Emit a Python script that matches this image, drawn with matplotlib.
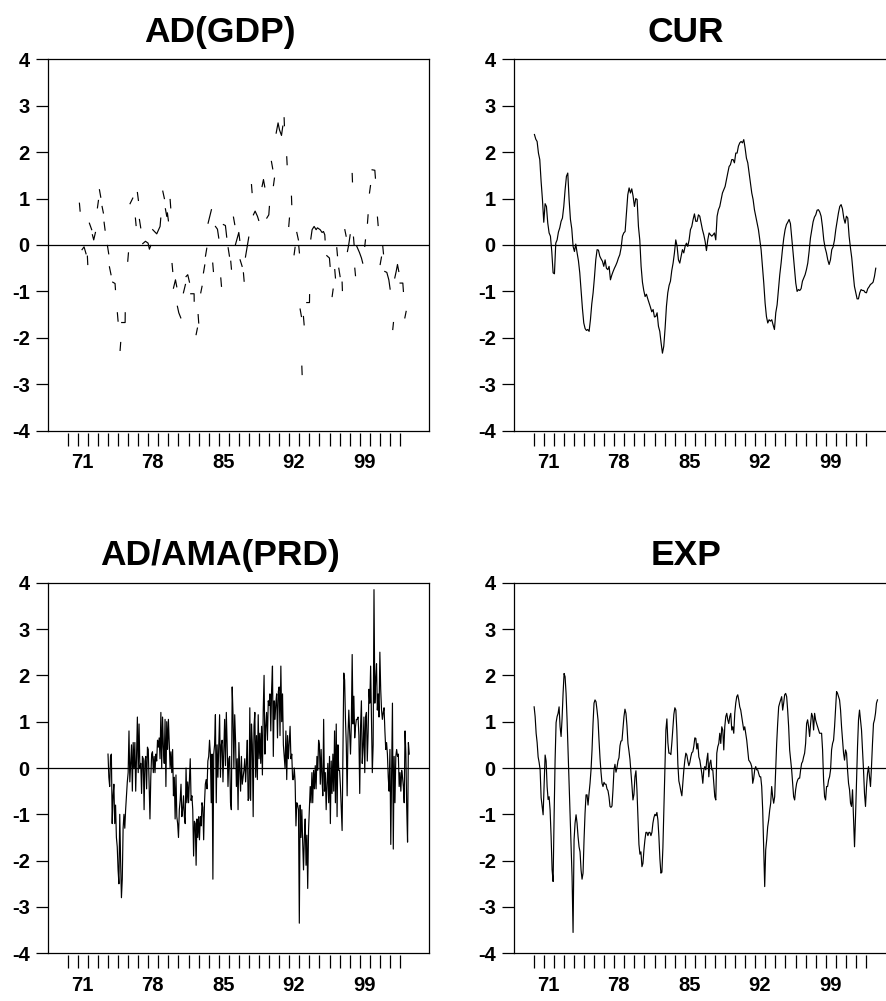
import numpy as np
import matplotlib
matplotlib.use("Agg")
import matplotlib.pyplot as plt

plt.rcParams['font.family'] = ['Liberation Sans', 'DejaVu Sans']
plt.rcParams['font.weight'] = 'bold'
plt.rcParams['axes.unicode_minus'] = False

# ---- data ----
# AD(GDP): only short fragments of the line are visible, one list per fragment
gdp_years = [
    [1971.16, 1971.23], [1971.42, 1971.62, 1971.82], [1971.95, 1971.99],
    [1972.15, 1972.38], [1972.45, 1972.58, 1972.75], [1972.95, 1973.05],
    [1973.15, 1973.28], [1973.41, 1973.54], [1973.61, 1973.71],
    [1973.94, 1974.07], [1974.14, 1974.30], [1974.47, 1974.70, 1974.74],
    [1974.93, 1975.00], [1975.20, 1975.26], [1975.36, 1975.70, 1975.71],
    [1975.96, 1976.03], [1976.19, 1976.46], [1976.72, 1976.79],
    [1976.92, 1977.02], [1977.12, 1977.25],
    [1977.45, 1977.72, 1977.98, 1978.11, 1978.25],
    [1978.44, 1978.84, 1979.17, 1979.24], [1979.44, 1979.60],
    [1979.70, 1979.83], [1979.90, 1980.00], [1980.17, 1980.23],
    [1980.36, 1980.43], [1980.50, 1980.70, 1980.83],
    [1980.89, 1981.03, 1981.23], [1981.49, 1981.69],
    [1981.75, 1981.92, 1982.09], [1982.22, 1982.55, 1982.56],
    [1982.75, 1982.88], [1982.95, 1983.01], [1983.21, 1983.34],
    [1983.48, 1983.61], [1983.68, 1983.81], [1983.94, 1984.14, 1984.27],
    [1984.40, 1984.47], [1984.67, 1984.87, 1985.00], [1985.20, 1985.27],
    [1985.46, 1985.66, 1985.79], [1985.93, 1986.06], [1986.19, 1986.26],
    [1986.46, 1986.59], [1986.66, 1986.86, 1986.99, 1987.09],
    [1987.12, 1987.32], [1987.45, 1987.52], [1987.65, 1987.98],
    [1988.25, 1988.31], [1988.44, 1988.61, 1988.84, 1988.97],
    [1989.30, 1989.44, 1989.57], [1989.77, 1989.97, 1990.03],
    [1990.23, 1990.36], [1990.43, 1990.53],
    [1990.70, 1990.89, 1991.03, 1991.23, 1991.36], [1991.49, 1991.52],
    [1991.75, 1991.79], [1991.95, 1992.02], [1992.22, 1992.25],
    [1992.48, 1992.58], [1992.75, 1992.91], [1992.95, 1993.01],
    [1993.08, 1993.21], [1993.25, 1993.28], [1993.41, 1993.48],
    [1993.74, 1994.01, 1994.02],
    [1994.14, 1994.27, 1994.47, 1994.67, 1994.80, 1995.07, 1995.26,
     1995.40, 1995.53, 1995.56],
    [1995.73, 1995.99, 1996.06], [1996.26, 1996.36], [1996.52, 1996.59],
    [1996.72, 1996.79], [1996.92, 1997.05], [1997.25, 1997.28],
    [1997.52, 1997.65], [1997.78, 1997.91, 1998.05], [1998.25, 1998.28],
    [1998.38, 1998.44], [1998.51, 1998.58],
    [1998.71, 1998.97, 1999.17, 1999.30], [1999.50, 1999.57],
    [1999.77, 1999.83], [1999.97, 2000.07], [2000.23, 2000.50, 2000.56],
    [2000.76, 2000.83], [2001.03, 2001.16], [2001.29, 2001.36],
    [2001.49, 2001.69, 2001.89, 2002.02], [2002.28, 2002.35],
    [2002.48, 2002.62, 2002.75, 2002.88], [2003.01, 2003.28, 2003.34],
    [2003.48, 2003.61],
]
gdp_values = [
    [0.90, 0.73], [-0.10, -0.04, -0.19], [-0.24, -0.42],
    [0.47, 0.33], [0.22, 0.11, 0.27], [0.80, 0.96],
    [1.19, 1.03], [0.83, 0.69], [0.49, 0.32],
    [-0.01, -0.19], [-0.47, -0.64], [-0.80, -0.83, -0.96],
    [-1.46, -1.64], [-2.27, -2.10], [-1.67, -1.67, -1.46],
    [-0.35, -0.17], [0.89, 1.01], [0.58, 0.42],
    [1.13, 0.96], [0.55, 0.37],
    [0.03, 0.08, 0.04, -0.09, -0.01],
    [0.33, 0.24, 0.40, 0.58], [1.16, 1.00],
    [0.78, 0.62], [0.69, 0.52], [0.98, 0.80],
    [-0.40, -0.57], [-0.93, -0.75, -0.90],
    [-1.32, -1.46, -1.57], [-1.03, -0.85],
    [-0.68, -0.64, -0.80], [-1.05, -1.05, -1.21],
    [-1.93, -1.79], [-1.50, -1.68], [-1.03, -0.89],
    [-0.60, -0.43], [-0.24, -0.07], [0.47, 0.65, 0.76],
    [-0.39, -0.57], [0.40, 0.34, 0.15], [-0.71, -0.89],
    [0.44, 0.42, 0.17], [-0.06, -0.24], [-0.35, -0.52],
    [0.60, 0.44], [0.01, 0.17, 0.27, 0.10],
    [-0.32, -0.46], [-0.60, -0.78], [-0.26, 0.17],
    [1.30, 1.13], [0.65, 0.73, 0.62, 0.53],
    [1.26, 1.41, 1.25], [0.58, 0.65, 0.83],
    [1.80, 1.64], [1.28, 1.44],
    [2.41, 2.63, 2.48, 2.36, 2.56], [2.74, 2.57],
    [1.90, 1.73], [0.40, 0.58], [1.05, 0.87],
    [-0.21, -0.05], [0.27, 0.11], [-0.03, -0.17],
    [-1.38, -1.54], [-2.61, -2.79], [-1.54, -1.72],
    [-1.24, -1.24, -1.07],
    [0.13, 0.33, 0.40, 0.33, 0.37, 0.33, 0.27, 0.29, 0.22, 0.11],
    [-0.23, -0.28, -0.46], [-1.11, -0.95], [-0.53, -0.71],
    [-0.06, -0.23], [-0.50, -0.68], [-0.80, -0.98],
    [0.33, 0.19], [-0.14, 0.01, 0.22], [1.54, 1.36],
    [0.17, 0.01], [-0.50, -0.66],
    [-0.03, -0.16, -0.28, -0.39], [-0.03, 0.11],
    [0.47, 0.65], [1.12, 1.28], [1.62, 1.61, 1.44],
    [0.60, 0.42], [-0.42, -0.26], [-0.03, -0.19],
    [-0.57, -0.59, -0.75, -0.95], [-1.82, -1.67],
    [-0.71, -0.57, -0.42, -0.57], [-0.82, -0.82, -1.00],
    [-1.57, -1.43],
]

# CUR, sampled evenly from 1970.07 to 2003.97
cur_start, cur_end = 1970.07, 2003.97
cur_values = [
    2.38, 2.28, 2.23, 1.98, 1.84, 1.37, 0.98, 0.49, 0.89, 0.83, 0.47, 0.26,
    0.19, -0.14, -0.60, -0.62, 0.04, 0.11, 0.28, 0.37, 0.51, 0.58, 0.83, 1.19,
    1.48, 1.55, 0.98, 0.55, 0.35, -0.03, -0.14, 0.02, -0.17, -0.34, -0.60, -0.98,
    -1.37, -1.68, -1.80, -1.84, -1.82, -1.86, -1.61, -1.27, -1.03, -0.70, -0.32, -0.10,
    -0.11, -0.24, -0.30, -0.35, -0.46, -0.32, -0.50, -0.53, -0.46, -0.75, -0.65, -0.57,
    -0.50, -0.44, -0.37, -0.28, -0.21, -0.06, 0.19, 0.26, 0.29, 0.69, 1.08, 1.23,
    1.12, 1.21, 1.05, 0.83, 1.00, 0.98, 0.40, 0.11, -0.46, -0.80, -0.98, -1.11,
    -1.06, -1.16, -1.25, -1.34, -1.44, -1.39, -1.55, -1.54, -1.46, -1.75, -1.86, -2.11,
    -2.33, -2.18, -1.79, -1.32, -1.03, -0.87, -0.78, -0.55, -0.39, -0.17, 0.11, -0.03,
    -0.32, -0.39, -0.24, -0.10, -0.17, -0.03, 0.04, -0.03, 0.11, 0.33, 0.40, 0.55,
    0.67, 0.51, 0.51, 0.65, 0.62, 0.47, 0.33, 0.22, 0.08, -0.12, 0.11, 0.26,
    0.22, 0.19, 0.22, 0.26, 0.11, 0.62, 0.76, 0.83, 0.98, 1.12, 1.19, 1.26,
    1.41, 1.55, 1.69, 1.73, 1.84, 1.84, 1.77, 1.98, 1.98, 2.13, 2.20, 2.23,
    2.20, 2.27, 2.09, 1.87, 1.77, 1.55, 1.34, 1.12, 0.98, 0.76, 0.62, 0.47,
    0.33, 0.11, -0.10, -0.46, -0.82, -1.25, -1.54, -1.68, -1.61, -1.64, -1.61, -1.72,
    -1.82, -1.46, -1.29, -0.96, -0.64, -0.39, -0.10, 0.15, 0.33, 0.44, 0.49, 0.55,
    0.46, 0.15, -0.17, -0.50, -0.82, -1.00, -0.96, -0.98, -0.94, -0.78, -0.71, -0.64,
    -0.53, -0.39, -0.14, 0.15, 0.33, 0.50, 0.60, 0.65, 0.75, 0.76, 0.71, 0.62,
    0.40, 0.11, -0.06, -0.17, -0.32, -0.42, -0.32, -0.10, -0.04, 0.10, 0.33, 0.51,
    0.69, 0.83, 0.87, 0.78, 0.58, 0.47, 0.62, 0.58, 0.19, -0.06, -0.28, -0.60,
    -0.89, -1.03, -1.16, -1.16, -1.03, -0.96, -0.98, -0.98, -1.02, -1.03, -0.94, -0.90,
    -0.85, -0.83, -0.80, -0.68, -0.50,
]

# AD/AMA(PRD), monthly 1974:01 - 2003:12
prd_start = 1974
prd_values = [
    0.3, -0.2, -0.4, 0.25, 0.3, -1.2, -0.6, -0.35, -1.2, -0.8, -1.5, -1.7,
    -2.2, -2.5, -1.0, -2.0, -2.8, -2.4, -1.3, -1.0, -1.3, -0.9, -0.6, -0.3,
    -0.1, 0.8, -0.3, 0.1, 0.5, -0.5, 0.55, 0.0, 0.55, -0.5, 0.25, 1.1,
    -0.1, 0.95, 0.0, 0.1, -0.55, 0.25, 0.2, -0.9, 0.15, 0.25, -0.45, 0.45,
    0.4, -0.35, -1.1, -0.2, 0.3, 0.35, -0.1, 0.25, -0.1, 0.3, 0.15, 0.6,
    0.45, 0.65, 0.2, 1.2, 0.0, 1.1, 0.45, 0.1, 1.05, -0.4, 1.0, 0.4,
    1.05, 0.5, 0.0, 0.35, -0.1, 0.4, -0.6, -0.2, -1.1, -0.15, -1.05, -1.2,
    -1.5, -0.9, -0.7, -0.35, -1.05, -0.9, -0.6, -1.05, -1.2, 0.0, -0.75, -0.3,
    -0.75, -0.3, 0.2, -0.7, -0.6, -0.9, -1.9, -1.15, -1.2, -2.1, -1.1, -1.5,
    -1.05, -1.55, -1.05, -1.25, -0.75, -0.85, -1.55, -0.75, -0.35, -0.25, -0.45, 0.15,
    0.25, 0.6, 0.3, -0.75, 0.3, -2.4, 0.3, 0.5, 1.15, -0.75, 0.5, -0.2,
    0.5, 1.15, -0.2, 0.5, 0.6, -0.3, 0.4, 1.05, 0.05, 1.2, 0.5, -0.4,
    0.2, 0.25, -0.75, -0.9, 1.75, 1.15, 0.0, 1.15, 0.6, -0.4, 0.2, -0.9,
    0.55, -0.05, -0.5, 0.25, -0.35, -0.2, -0.05, 0.2, -0.3, 0.1, 0.6, -0.7,
    -0.65, 1.3, -0.7, 0.95, 0.5, -1.05, 0.9, 1.2, -0.2, 0.7, -0.25, 1.15,
    0.2, 0.75, 0.1, 0.9, -0.15, 1.25, 2.0, 0.3, 0.9, 1.2, 0.6, 1.45,
    1.35, 1.6, 0.8, 1.7, 2.2, 0.25, 1.45, 1.05, 1.4, 1.6, 0.65, 1.65,
    1.75, 0.7, 2.2, 1.0, 1.6, 0.5, 0.25, 0.0, 0.8, -0.25, 0.7, 0.2,
    0.55, 0.9, 0.2, 0.3, -0.25, -0.25, 0.0, -0.3, -1.25, -0.75, -0.8, -0.9,
    -3.35, -0.8, -1.5, -0.9, -1.6, -2.2, -1.5, -1.1, -2.1, -1.45, -2.6, -1.35,
    -0.9, -0.4, -0.75, -0.1, -0.75, -0.05, -0.45, 0.05, -0.45, 0.25, -0.05, 0.6,
    0.5, -0.35, 0.4, -0.2, -0.6, 1.05, -0.5, -0.1, -0.9, -0.35, 0.1, -0.75,
    0.25, -1.2, 0.15, -0.55, 0.3, -0.5, 0.8, -0.75, 0.95, -1.05, 0.5, -0.05,
    -0.05, -0.4, -0.9, -1.35, 0.4, 2.05, 1.9, 1.05, 0.5, -0.6, 0.7, 1.25,
    0.8, 0.3, 0.95, 2.45, 0.95, 1.55, 0.65, 0.9, 1.05, 1.05, 1.1, 0.7,
    -0.55, 0.9, 1.45, 0.1, 0.45, 1.1, -0.1, 1.1, 1.2, 0.15, 0.75, 1.7,
    1.4, 2.2, 1.1, -0.1, 0.5, 3.85, 1.4, 1.9, 2.25, 1.25, 1.6, 1.1,
    2.5, 1.7, 1.25, 1.05, 1.2, 1.3, 0.8, 0.4, 0.55, 0.3, -0.2, -0.5,
    0.4, -1.65, -0.1, 1.4, -1.75, 0.25, -0.75, 0.25, 0.4, 0.25, 0.3, -0.4,
    -0.1, -0.5, -0.05, -0.2, -0.4, -0.75, 0.8, 0.3, -0.85, -1.6, 0.55, 0.3,
]

# EXP, sampled evenly from 1970.04 to 2004.14
exp_start, exp_end = 1970.04, 2004.14
exp_values = [
    1.32, 1.11, 0.75, 0.55, 0.24, 0.12, -0.04, -0.64, -0.83, -1.01, -0.33, 0.28,
    0.15, -0.40, -0.68, -0.62, -0.91, -1.48, -2.20, -2.45, -1.05, 0.17, 0.98, 1.11,
    1.18, 1.32, 0.89, 0.68, 1.07, 1.61, 2.04, 1.97, 1.61, 1.04, 0.35, -0.29,
    -1.01, -1.73, -2.35, -3.55, -1.55, -1.19, -1.01, -1.19, -1.48, -1.70, -1.81, -2.20,
    -2.40, -2.27, -1.55, -0.98, -0.58, -0.58, -0.80, -0.55, -0.33, -0.04, 0.39, 0.96,
    1.40, 1.47, 1.43, 1.25, 1.04, 0.60, 0.21, -0.09, -0.33, -0.40, -0.31, -0.35,
    -0.35, -0.45, -0.49, -0.62, -0.83, -0.85, -0.82, -0.47, -0.04, 0.08, -0.09, 0.01,
    0.15, 0.22, 0.48, 0.58, 0.59, 0.84, 1.11, 1.27, 1.18, 0.91, 0.53, 0.37,
    0.19, -0.09, -0.38, -0.69, -0.57, -0.19, -0.06, -0.47, -1.07, -1.65, -1.86, -1.81,
    -2.13, -2.06, -1.77, -1.55, -1.39, -1.39, -1.46, -1.39, -1.39, -1.46, -1.39, -1.19,
    -1.07, -1.00, -1.03, -0.96, -1.12, -1.48, -1.96, -2.27, -2.25, -1.72, -0.91, -0.04,
    0.82, 1.06, 0.55, 0.32, 0.32, 0.29, 0.55, 0.87, 1.16, 1.30, 1.25, 0.80,
    0.08, -0.28, -0.38, -0.50, -0.60, -0.33, -0.04, 0.17, 0.32, 0.28, 0.15, 0.05,
    0.12, 0.24, 0.33, 0.35, 0.47, 0.65, 0.64, 0.41,
    0.53, 0.24, 0.17, 0.03, -0.12, -0.33, -0.04, 0.03, -0.04, 0.17, 0.32, -0.19,
    0.10, 0.17, -0.04, -0.04, -0.33, -0.62, -0.69, 0.32, 0.46, 0.53, 0.75, 0.53,
    0.89, 0.82, 0.39, 0.89, 1.11, 1.18, 1.04, 0.96, 1.11, 1.18, 0.82, 0.89,
    0.75, 1.18, 1.40, 1.54, 1.58, 1.47, 1.32, 1.25, 1.11, 0.96, 0.82, 0.89,
    0.75, 0.60, 0.39, 0.17, 0.14, 0.10, 0.03, -0.33, -0.22, -0.04, 0.03, -0.04,
    -0.04, -0.12, -0.19, -0.19, -0.40, -0.91, -1.70, -2.56, -1.77, -1.55, -1.27, -1.12,
    -0.91, -0.76, -0.40, -0.62, -0.76, -0.62, -0.04, 0.53, 0.96, 1.32, 1.40, 1.47,
    1.54, 1.25, 1.40, 1.58, 1.61, 1.54, 1.25, 0.89, 0.39, 0.17, -0.04, -0.33,
    -0.62, -0.69, -0.47, -0.33, -0.26, -0.22, -0.22, -0.04, 0.10, 0.14, 0.24, 0.32,
    0.53, 0.96, 1.04, 0.89, 0.68, 0.96, 1.18, 1.11, 0.82, 1.18, 1.04, 0.96,
    0.89, 0.82, 0.75, 0.75, 0.75, 0.39, -0.26, -0.62, -0.69, -0.40, -0.40, -0.26,
    -0.19, -0.04, 0.39, 0.53, 0.60, 0.89, 1.25, 1.65, 1.61, 1.54, 1.47, 1.25,
    0.89, 0.60, 0.32, 0.17, 0.39, 0.32, -0.04, -0.33, -0.47, -0.76, -0.83, -0.47,
    -1.12, -1.70, -1.05, -0.26, 0.46, 1.04, 1.25, 1.04, 0.82, 0.39, -0.04, -0.55,
    -0.83, -0.40, -0.12, 0.03, -0.19, -0.40, 0.03, 0.53, 0.96, 1.04, 1.18, 1.40,
    1.47,
]

titles = ["AD(GDP)", "CUR", "AD/AMA(PRD)", "EXP"]
tick_years = list(range(1970, 2004))
label_years = [71, 78, 85, 92, 99]

# ---- build the plotted series ----
gdp_x, gdp_y = [], []
for xs, ys in zip(gdp_years, gdp_values):
    gdp_x += xs + [np.nan]
    gdp_y += ys + [np.nan]

cur_x = np.linspace(cur_start, cur_end, len(cur_values))
prd_x = prd_start + np.arange(len(prd_values)) / 12.0
exp_x = np.linspace(exp_start, exp_end, len(exp_values))

series = [(gdp_x, gdp_y), (cur_x, cur_values), (prd_x, prd_values), (exp_x, exp_values)]

W, H = 887.0, 1001.0
# panel boxes in pixels: left, top, right, bottom
boxes = [(48, 59.3, 429, 430.7), (514, 59.3, 895, 430.7),
         (48, 582.7, 429, 953.3), (514, 582.7, 895, 953.3)]

fig = plt.figure(figsize=(W / 100, H / 100), dpi=100)

for (l, t, r, b), title, (xs, ys) in zip(boxes, titles, series):
    ax = fig.add_axes([l / W, 1 - b / H, (r - l) / W, (b - t) / H])
    ax.plot(xs, ys, color='black', lw=0.85)
    ax.axhline(0, color='black', lw=0.9)
    ax.set_xlim(1968.04, 2005.88)
    ax.set_ylim(-4, 4)

    ax.set_yticks(range(-4, 5))
    ax.tick_params(axis='y', direction='out', length=8.6, width=0.9,
                   pad=4.5, labelsize=14.5)

    ax.set_xticks([1900 + v + 0.45 for v in label_years])
    ax.set_xticklabels([str(v) for v in label_years])
    ax.set_xticks(tick_years, minor=True)
    ax.tick_params(axis='x', which='major', length=0, pad=15, labelsize=14.5)
    ax.tick_params(axis='x', which='minor', direction='out', length=9.2, width=0.9)

    # ticks sit a little below the frame
    ax.spines['bottom'].set_position(('outward', 1.3))
    ax.spines['bottom'].set_visible(False)
    ax.axhline(-4, color='black', lw=0.9, clip_on=False)
    for s in ['left', 'top', 'right']:
        ax.spines[s].set_linewidth(0.9)

    ax.annotate(title, xy=(0.452, 1), xycoords='axes fraction',
                xytext=(0, 12.5), textcoords='offset points',
                ha='center', va='baseline', fontsize=25.5, fontweight='bold')

fig.savefig('out.png', dpi=100)
